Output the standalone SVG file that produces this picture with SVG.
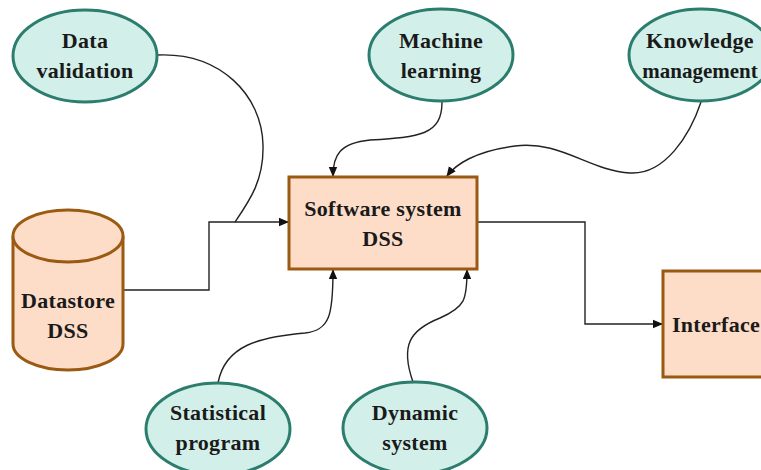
<svg xmlns="http://www.w3.org/2000/svg" width="761" height="470" viewBox="0 0 761 470">
<style>
.ell{fill:#d2f0e9;stroke:#2b7d6e;stroke-width:3}
.box{fill:#fddcc8;stroke:#9a5a12;stroke-width:3}
.t{font-family:"Liberation Serif","Times New Roman",serif;font-weight:bold;font-size:22px;fill:#1a1a1a;text-anchor:middle;letter-spacing:0.3px}
.c{fill:none;stroke:#222;stroke-width:1.4}
</style>
<defs>
<marker id="ah" markerWidth="10" markerHeight="10" refX="9" refY="5" orient="auto" markerUnits="userSpaceOnUse">
<path d="M0,0.8 L10,5 L0,9.2 Z" fill="#111"/>
</marker>
</defs>
<rect width="761" height="470" fill="#fff"/>
<g id="connectors">
<path class="c" d="M157,55 C220,52 262,95 263,145 C264,180 250,200 235,222"/>
<path class="c" d="M123,290 H209 V222 H288" marker-end="url(#ah)"/>
<path class="c" d="M442,102 C442,135 420,137 370,140 C340,143 333,155 333,176" marker-end="url(#ah)"/>
<path class="c" d="M701,102 C690,135 665,175 630,173 C590,171 560,140 515,146 C475,151 455,165 447,176" marker-end="url(#ah)"/>
<path class="c" d="M218,383 C225,345 260,337 305,333 C330,330 333,315 333,270" marker-end="url(#ah)"/>
<path class="c" d="M413,382 C400,345 410,330 440,318 C465,307 467,300 467,270" marker-end="url(#ah)"/>
<path class="c" d="M477,222 H585 V324 H662" marker-end="url(#ah)"/>
</g>
<g id="data-validation">
<ellipse class="ell" cx="85" cy="56" rx="72" ry="46"/>
<text class="t" x="85" y="48">Data</text>
<text class="t" x="85" y="78">validation</text>
</g>
<g id="machine-learning">
<ellipse class="ell" cx="441" cy="55" rx="72" ry="46"/>
<text class="t" x="441" y="48">Machine</text>
<text class="t" x="441" y="78">learning</text>
</g>
<g id="knowledge-management">
<ellipse class="ell" cx="701" cy="55" rx="72" ry="46"/>
<text class="t" x="700" y="48">Knowledge</text>
<text class="t" x="700" y="78" style="font-size:21px;letter-spacing:0">management</text>
</g>
<g id="software-system">
<rect class="box" x="289" y="177" width="188" height="92"/>
<text class="t" x="383" y="216">Software system</text>
<text class="t" x="383" y="246">DSS</text>
</g>
<g id="datastore">
<path class="box" d="M13,236 V344 A55,26 0 0 0 123,344 V236 A55,26 0 0 0 13,236 Z"/>
<path class="box" d="M13,236 A55,26 0 0 0 123,236" fill="none"/>
<text class="t" x="68" y="308">Datastore</text>
<text class="t" x="68" y="338">DSS</text>
</g>
<g id="statistical-program">
<ellipse class="ell" cx="218" cy="429" rx="72" ry="46"/>
<text class="t" x="218" y="420">Statistical</text>
<text class="t" x="218" y="450">program</text>
</g>
<g id="dynamic-system">
<ellipse class="ell" cx="415" cy="428" rx="72" ry="46"/>
<text class="t" x="415" y="420">Dynamic</text>
<text class="t" x="415" y="450">system</text>
</g>
<g id="interface">
<rect class="box" x="663" y="271" width="110" height="106"/>
<text class="t" x="716" y="332">Interface</text>
</g>
</svg>
